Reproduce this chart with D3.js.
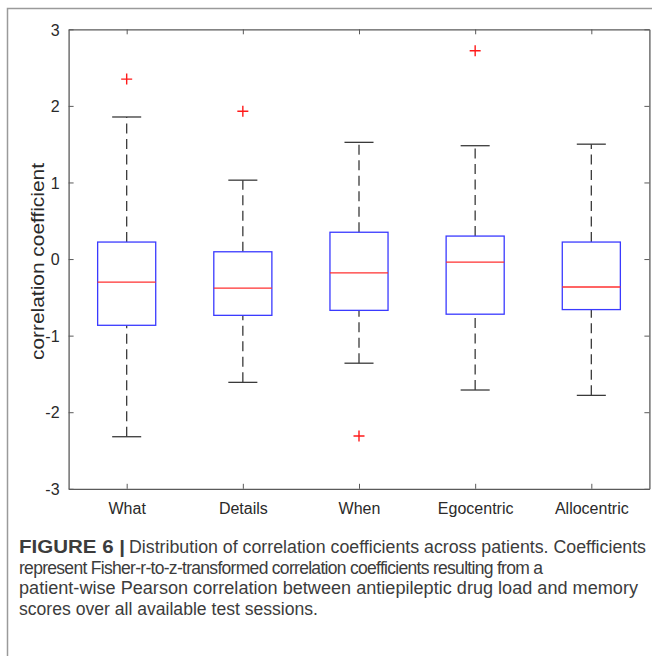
<!DOCTYPE html>
<html>
<head>
<meta charset="utf-8">
<script src="https://cdn.jsdelivr.net/npm/d3@7"></script>
<style>
  html, body { margin: 0; padding: 0; background: #fff; }
  svg { display: block; }
  text { font-family: "Liberation Sans", Arial, Helvetica, sans-serif; }
</style>
</head>
<body>
<svg id="chart" width="652" height="656"></svg>
<script>
// ---- data ----
const categories = ["What", "Details", "When", "Egocentric", "Allocentric"];
const lowerWhisker = [-2.32, -1.61, -1.36, -1.71, -1.78];
const q1 = [-0.865, -0.735, -0.67, -0.72, -0.66];
const median = [-0.30, -0.38, -0.18, -0.04, -0.365];
const q3 = [0.222, 0.095, 0.35, 0.30, 0.222];
const upperWhisker = [1.855, 1.03, 1.524, 1.48, 1.50];
const outliers = [[2.35], [1.93], [-2.31], [2.72], []];
const yTicks = [-3, -2, -1, 0, 1, 2, 3];
const yTickLabels = ["-3", "-2", "-1", "0", "1", "2", "3"];
const yLabel = "correlation coefficient";
const captionBold = "FIGURE 6 |";
const captionLines = [
  "Distribution of correlation coefficients across patients. Coefficients",
  "represent Fisher-r-to-z-transformed correlation coefficients resulting from a",
  "patient-wise Pearson correlation between antiepileptic drug load and memory",
  "scores over all available test sessions."
];

// ---- layout ----
const svg = d3.select("#chart");
const plot = { left: 68.6, right: 649.4, top: 29.3, bottom: 488.8 };
const axisColor = "#5a5a5a";

// outer figure frame (left + top visible)
svg.append("path")
  .attr("d", "M7.5,656 L7.5,8.5 L652,8.5")
  .attr("fill", "none").attr("stroke", "#9a9a9a").attr("stroke-width", 1.5);

const y = d3.scaleLinear().domain([-3, 3]).range([plot.bottom, plot.top]);
const x = d3.scalePoint().domain(categories).range([plot.left, plot.right]).padding(0.5);
const step = x.step();
const boxW = step * 0.5, capW = step * 0.25;

// axes
const fontSize = 16;
const gL = svg.append("g").attr("transform", `translate(${plot.left},0)`)
  .call(d3.axisLeft(y).tickValues(yTicks).tickSizeInner(-5).tickSizeOuter(0).tickPadding(9)
    .tickFormat((d, i) => yTickLabels[i]));
const gR = svg.append("g").attr("transform", `translate(${plot.right},0)`)
  .call(d3.axisRight(y).tickValues(yTicks).tickSizeInner(-5).tickSizeOuter(0).tickFormat(""));
const gT = svg.append("g").attr("transform", `translate(0,${plot.top})`)
  .call(d3.axisTop(x).tickSizeInner(-5).tickSizeOuter(0).tickFormat(""));
const gB = svg.append("g").attr("transform", `translate(0,${plot.bottom})`)
  .call(d3.axisBottom(x).tickSizeInner(-5).tickSizeOuter(0).tickPadding(14));
[gL, gR, gT, gB].forEach(g => {
  g.select(".domain").attr("stroke", axisColor).attr("stroke-width", 1.3);
  g.selectAll(".tick line").attr("stroke", axisColor).attr("stroke-width", 1);
  g.selectAll(".tick text").attr("fill", "#2a2a2a")
    .style("font-size", fontSize + "px")
    .style("font-family", "'Liberation Sans', Arial, sans-serif");
});
gL.selectAll(".tick text").attr("dy", "0.36em");

// y-axis label
svg.append("text")
  .attr("transform", `translate(43.5,${(163 + 360) / 2}) rotate(-90)`)
  .attr("text-anchor", "middle")
  .attr("fill", "#2a2a2a")
  .style("font-size", "18px")
  .attr("textLength", 197).attr("lengthAdjust", "spacingAndGlyphs")
  .text(yLabel);

// boxes
const data = categories.map((c, i) => ({
  c, lo: lowerWhisker[i], q1: q1[i], med: median[i], q3: q3[i], hi: upperWhisker[i], out: outliers[i]
}));
const g = svg.append("g");
const whiskerColor = "#3a3a3a";
g.selectAll("line.wlo").data(data).join("line").attr("class", "wlo")
  .attr("x1", d => x(d.c)).attr("x2", d => x(d.c))
  .attr("y1", d => y(d.lo)).attr("y2", d => y(d.q1))
  .attr("stroke", whiskerColor).attr("stroke-width", 1.3).attr("stroke-dasharray", "10,5.5");
g.selectAll("line.whi").data(data).join("line").attr("class", "whi")
  .attr("x1", d => x(d.c)).attr("x2", d => x(d.c))
  .attr("y1", d => y(d.q3)).attr("y2", d => y(d.hi))
  .attr("stroke", whiskerColor).attr("stroke-width", 1.3).attr("stroke-dasharray", "10,5.5");
g.selectAll("line.clo").data(data).join("line").attr("class", "clo")
  .attr("x1", d => x(d.c) - capW / 2).attr("x2", d => x(d.c) + capW / 2)
  .attr("y1", d => y(d.lo)).attr("y2", d => y(d.lo))
  .attr("stroke", whiskerColor).attr("stroke-width", 1.3);
g.selectAll("line.chi").data(data).join("line").attr("class", "chi")
  .attr("x1", d => x(d.c) - capW / 2).attr("x2", d => x(d.c) + capW / 2)
  .attr("y1", d => y(d.hi)).attr("y2", d => y(d.hi))
  .attr("stroke", whiskerColor).attr("stroke-width", 1.3);
g.selectAll("rect.box").data(data).join("rect").attr("class", "box")
  .attr("x", d => x(d.c) - boxW / 2).attr("width", boxW)
  .attr("y", d => y(d.q3)).attr("height", d => y(d.q1) - y(d.q3))
  .attr("fill", "none").attr("stroke", "#3a3aff").attr("stroke-width", 1.3);
g.selectAll("line.med").data(data).join("line").attr("class", "med")
  .attr("x1", d => x(d.c) - boxW / 2).attr("x2", d => x(d.c) + boxW / 2)
  .attr("y1", d => y(d.med)).attr("y2", d => y(d.med))
  .attr("stroke", "#ff3030").attr("stroke-width", 1.3);
const pts = data.flatMap(d => d.out.map(v => ({ c: d.c, v })));
const s = 5.5;
g.selectAll("path.out").data(pts).join("path").attr("class", "out")
  .attr("d", d => `M${x(d.c) - s},${y(d.v)} H${x(d.c) + s} M${x(d.c)},${y(d.v) - s} V${y(d.v) + s}`)
  .attr("stroke", "#ff1a1a").attr("stroke-width", 1.4).attr("fill", "none");

// caption
const cap = svg.append("g").attr("fill", "#3c3c3c").style("font-size", "17.5px");
cap.append("text").attr("x", 19).attr("y", 553)
  .style("font-weight", "bold")
  .attr("textLength", 106).attr("lengthAdjust", "spacingAndGlyphs")
  .text(captionBold);
const lineSpecs = [
  { x: 129, y: 553, w: 517, adj: "spacingAndGlyphs" },
  { x: 19, y: 573.5, w: 524, adj: "spacing" },
  { x: 19, y: 594, w: 619, adj: "spacingAndGlyphs" },
  { x: 19, y: 614.5, w: 299, adj: "spacingAndGlyphs" }
];
captionLines.forEach((t, i) => {
  cap.append("text").attr("x", lineSpecs[i].x).attr("y", lineSpecs[i].y)
    .attr("textLength", lineSpecs[i].w).attr("lengthAdjust", lineSpecs[i].adj)
    .text(t);
});
</script>
</body>
</html>
